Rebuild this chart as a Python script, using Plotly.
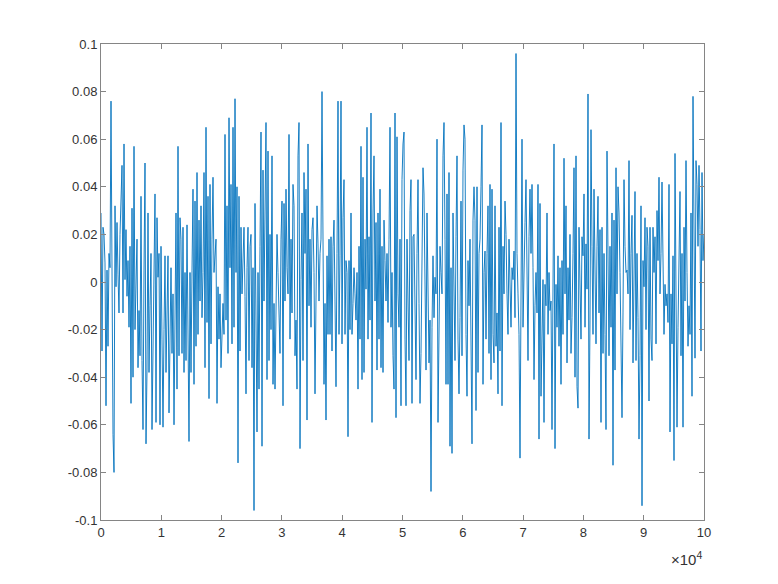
import plotly.graph_objects as go

# Signal samples, segment by segment (x from 0 to 1e5)
seg1 = [0.029, -0.029, 0.023, 0.02, 0.008, -0.052, 0.005, -0.027, 0.012, 0.006, 0.076, -0.02, -0.064, -0.08,
        0.032, -0.002, 0.025, 0.003, -0.013, 0.02, 0.034, 0.049, -0.013, 0.058, 0.001, 0.022, -0.006, 0.009,
        -0.019, 0.015, -0.051, 0.031, -0.04, 0.057, -0.02, 0.006, 0.018, -0.036, -0.012, -0.031, 0.036, -0.033,
        -0.062, 0.005, 0.05, -0.068, -0.037, 0.029, -0.038, -0.01, 0.012, -0.062, -0.026, -0.01, 0.037, -0.059,
        0.027, 0.002, 0.012, -0.06, 0.015, -0.024, -0.061, -0.02, 0.011, -0.038, -0.012, 0.011, -0.055, -0.015,
        0.006, -0.03, -0.005]
seg2 = [-0.060, 0.006, 0.029, -0.045, 0.057, -0.031, 0.027, 0.018, -0.030, 0.023, -0.038, 0.004, -0.033, 0.024,
        -0.038, -0.067, 0.004, -0.038, 0.005, 0.039, -0.043, 0.034, -0.027, 0.046, -0.022, 0.026, -0.008, 0.032,
        -0.015, 0.004, 0.046, -0.036, 0.065, -0.017, 0.036, -0.049, 0.041, -0.026, 0.018, 0.044, 0.004, 0.012,
        0.018, -0.051, -0.002, -0.024, -0.005, -0.036, -0.022, -0.009, -0.022, 0.062, -0.016, 0.032, -0.030,
        0.069, 0.006, 0.041, -0.026, 0.065, -0.019, 0.077, 0.004, 0.040, -0.076, 0.036, -0.029, 0.023, -0.005,
        0.012, 0.023, -0.006, -0.047, 0.006]
seg3 = [0.023, -0.033, 0.015, 0.020, -0.036, 0.006, -0.096, 0.033, -0.020, -0.063, 0.004, -0.045, 0.015, 0.063,
        -0.069, 0.047, -0.008, 0.032, 0.067, -0.041, 0.055, -0.033, 0.020, -0.020, 0.053, -0.043, -0.009, -0.045,
        -0.013, 0.020, 0.004, -0.013, -0.030, 0.018, 0.034, -0.052, 0.033, -0.008, 0.039, 0.006, -0.005, 0.062,
        -0.024, 0.018, -0.013, 0.041, 0.032, -0.031, -0.016, -0.045, 0.053, 0.067, -0.070, 0.001, 0.029, -0.033,
        0.046, 0.012, 0.039, -0.058, 0.058, -0.010, 0.018, -0.019, 0.022, 0.027, 0.004, -0.047, 0.005, 0.032,
        0.016, -0.008, 0.012, 0.018, 0.080, 0.005]
seg4 = [-0.043, -0.009, -0.058, 0.011, -0.022, 0.018, -0.022, 0.019, -0.029, 0.015, 0.026, -0.008, -0.044, 0.012,
        0.076, -0.022, 0.011, 0.076, -0.026, 0.027, 0.043, -0.022, 0.009, 0.004, -0.065, 0.009, -0.020, 0.029,
        -0.022, -0.009, 0.006, -0.005, -0.016, 0.004, -0.045, 0.015, -0.024, 0.057, -0.041, 0.044, -0.038, 0.018,
        -0.003, 0.065, -0.024, 0.019, -0.016, 0.071, -0.059, 0.029, 0.053, -0.008, 0.025, -0.037, 0.029, -0.024,
        0.039, -0.036, 0.015, -0.038, 0.026, 0.009, -0.008, 0.012, -0.017, 0.018, 0.065, -0.019, 0.004, -0.031,
        -0.045, 0.071, -0.057, 0.061, -0.005]
seg5 = [-0.019, 0.018, -0.052, 0.043, 0.058, 0.063, -0.024, -0.052, 0.018, -0.019, -0.033, 0.030, 0.043, -0.051,
        0.019, 0.020, -0.020, -0.041, 0.012, 0.043, -0.009, -0.051, -0.030, 0.018, 0.048, 0.037, -0.015, -0.037,
        0.029, -0.006, -0.034, -0.016, -0.088, -0.019, 0.011, -0.015, 0.002, -0.005, 0.060, -0.059, -0.005, 0.015,
        0.004, -0.005, 0.053, 0.067, 0.018, -0.043, 0.037, -0.043, 0.046, -0.069, 0.006, -0.072, 0.029, -0.008,
        -0.033, 0.019, 0.053, -0.024, -0.047, -0.015, 0.034, -0.031, 0.047, 0.066, 0.060, -0.022, -0.048, 0.009,
        -0.010, 0.018, -0.027, -0.068, 0.026, 0.040]
seg6 = [0.026, -0.054, 0.040, -0.038, 0.012, 0.018, 0.040, 0.066, -0.043, 0.004, 0.013, -0.024, 0.012, 0.032,
        -0.030, 0.041, -0.041, 0.039, -0.022, -0.034, 0.032, -0.027, -0.013, -0.047, 0.023, -0.029, 0.067, -0.052,
        0.015, -0.005, 0.034, 0.020, -0.005, -0.022, 0.018, -0.005, -0.019, 0.006, 0.001, 0.013, -0.015, 0.096,
        0.012, -0.005, -0.022, -0.074, 0.006, 0.060, -0.019, 0.015, 0.025, 0.043, -0.005, -0.033, 0.019, 0.039,
        0.012, 0.041, 0.006, -0.041, -0.010, 0.004, -0.013, 0.041, -0.066, 0.033, -0.048, -0.010, 0.001, -0.059,
        -0.001, -0.010, 0.029, -0.022, 0.004, -0.012]
seg7 = [-0.008, -0.062, -0.010, 0.058, -0.070, -0.001, -0.019, 0.011, -0.027, 0.006, -0.043, 0.009, -0.022, 0.052,
        -0.005, 0.032, -0.034, 0.006, -0.016, 0.020, -0.030, -0.015, 0.012, 0.048, -0.040, 0.053, -0.044, -0.053,
        0.023, -0.002, -0.024, 0.019, 0.011, 0.037, -0.019, 0.016, -0.003, 0.079, -0.066, -0.016, 0.064, 0.015,
        -0.022, 0.039, -0.012, -0.026, 0.015, 0.036, -0.013, 0.022, -0.059, 0.023, -0.030, 0.012, -0.022, -0.062,
        0.055, 0.012, -0.031, 0.015, -0.019, 0.029, -0.077, 0.026, -0.037, 0.048, -0.005, 0.040, 0.029, 0.004,
        -0.024, -0.057, -0.013, 0.043, 0.015, 0.004]
seg8 = [0.005, -0.005, 0.051, -0.020, 0.012, 0.028, -0.034, 0.018, 0.038, -0.033, 0.012, -0.015, -0.066, -0.031,
        0.032, -0.094, 0.009, -0.002, 0.027, -0.020, 0.023, 0.015, -0.050, 0.023, -0.024, -0.033, 0.023, 0.004,
        0.019, -0.026, 0.030, 0.009, 0.044, -0.005, 0.012, 0.042, -0.005, -0.022, -0.001, -0.010, -0.005, -0.017,
        0.041, -0.063, -0.005, -0.026, 0.011, -0.075, 0.054, -0.010, -0.061, -0.019, 0.023, 0.038, -0.031, 0.012,
        -0.061, 0.023, -0.008, 0.051, 0.004, -0.027, -0.010, -0.022, 0.029, -0.048, 0.078, 0.012, -0.032, 0.051,
        0.041, 0.015, 0.049, 0.022, -0.029, 0.046, 0.009, 0.020]

values = seg1 + seg2 + seg3 + seg4 + seg5 + seg6 + seg7 + seg8
x_max = 100000
sample_x = [i * x_max / (len(values) - 1) for i in range(len(values))]

x_tick_vals = [0, 10000, 20000, 30000, 40000, 50000, 60000, 70000, 80000, 90000, 100000]
x_tick_text = ["0", "1", "2", "3", "4", "5", "6", "7", "8", "9", "10"]
y_tick_vals = [-0.1, -0.08, -0.06, -0.04, -0.02, 0, 0.02, 0.04, 0.06, 0.08, 0.1]
y_tick_text = ["-0.1", "-0.08", "-0.06", "-0.04", "-0.02", "0", "0.02", "0.04", "0.06", "0.08", "0.1"]

fig = go.Figure()
fig.add_trace(go.Scatter(x=sample_x, y=values, mode="lines",
                         line=dict(color="#0072BD", width=0.9), hoverinfo="skip"))

font_family = "Liberation Sans, Arial, sans-serif"
axis_common = dict(showgrid=False, zeroline=False, showline=True, linecolor="#858585", linewidth=1,
                   mirror="ticks", ticks="inside", ticklen=5, tickcolor="#858585",
                   tickfont=dict(family=font_family, size=13, color="#333333"))

fig.update_layout(
    width=770, height=576,
    margin=dict(l=93, r=74, t=36, b=64),
    paper_bgcolor="white", plot_bgcolor="white",
    showlegend=False,
    xaxis=dict(range=[0, x_max], tickvals=x_tick_vals, ticktext=x_tick_text, **axis_common),
    yaxis=dict(range=[-0.1, 0.1], tickvals=y_tick_vals, ticktext=y_tick_text, **axis_common),
    annotations=[dict(text="×10<sup>4</sup>", xref="paper", yref="paper", x=1.0, y=-0.08,
                      xanchor="right", yanchor="middle", showarrow=False,
                      font=dict(family=font_family, size=15, color="#333333"))],
)

fig.write_html("out.html")
